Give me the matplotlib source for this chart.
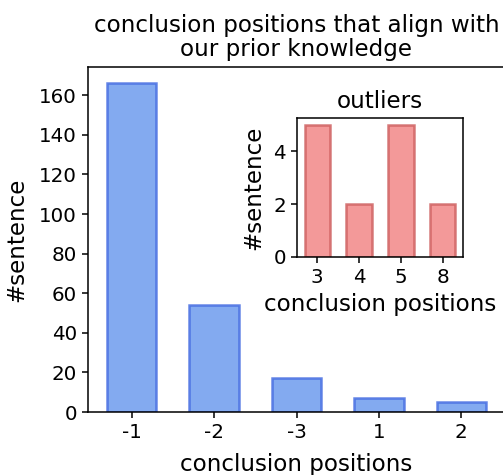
import matplotlib
matplotlib.use('Agg')
import matplotlib.pyplot as plt
import numpy as np

# main chart data
positions = ['-1', '-2', '-3', '1', '2']
counts = [166, 54, 17, 7, 5]
main_yticks = [0, 20, 40, 60, 80, 100, 120, 140, 160]
# outliers
out_positions = ['3', '4', '5', '8']
out_counts = [5, 2, 5, 2]
out_yticks = [0, 2, 4]

fig = plt.figure(figsize=(5.03, 4.75), dpi=100)
ax = fig.add_axes([88 / 503, 63 / 475, 417 / 503, 345 / 475])
ax.bar(np.arange(len(positions)), counts, width=0.6, color='cornflowerblue',
       edgecolor='royalblue', linewidth=1.8, alpha=0.8)
ax.set_xticks(np.arange(len(positions)))
ax.set_xticklabels(positions)
ax.set_yticks(main_yticks)
ax.tick_params(labelsize=14.3, length=4.5, width=1.1)
ax.set_xlabel('conclusion positions', fontsize=16.6, labelpad=8)
ax.set_ylabel('#sentence', fontsize=16.6, labelpad=8)
ax.set_title('conclusion positions that align with\nour prior knowledge', fontsize=16.6,
             linespacing=1.05, pad=8)
for s in ax.spines.values():
    s.set_linewidth(1.1)

# inset
ins = fig.add_axes([297 / 503, 218 / 475, 166 / 503, 139 / 475])
ins.bar(np.arange(len(out_positions)), out_counts, width=0.6, color='lightcoral',
        edgecolor='indianred', linewidth=1.8, alpha=0.8)
ins.set_xticks(np.arange(len(out_positions)))
ins.set_xticklabels(out_positions)
ins.set_yticks(out_yticks)
ins.tick_params(labelsize=14.3, length=4.5, width=1.1)
ins.set_xlabel('conclusion positions', fontsize=16.6, labelpad=4)
ins.set_ylabel('#sentence', fontsize=16.6, labelpad=6)
ins.set_title('outliers', fontsize=16.6, pad=7)
for s in ins.spines.values():
    s.set_linewidth(1.1)

fig.savefig('out.png', dpi=100)
